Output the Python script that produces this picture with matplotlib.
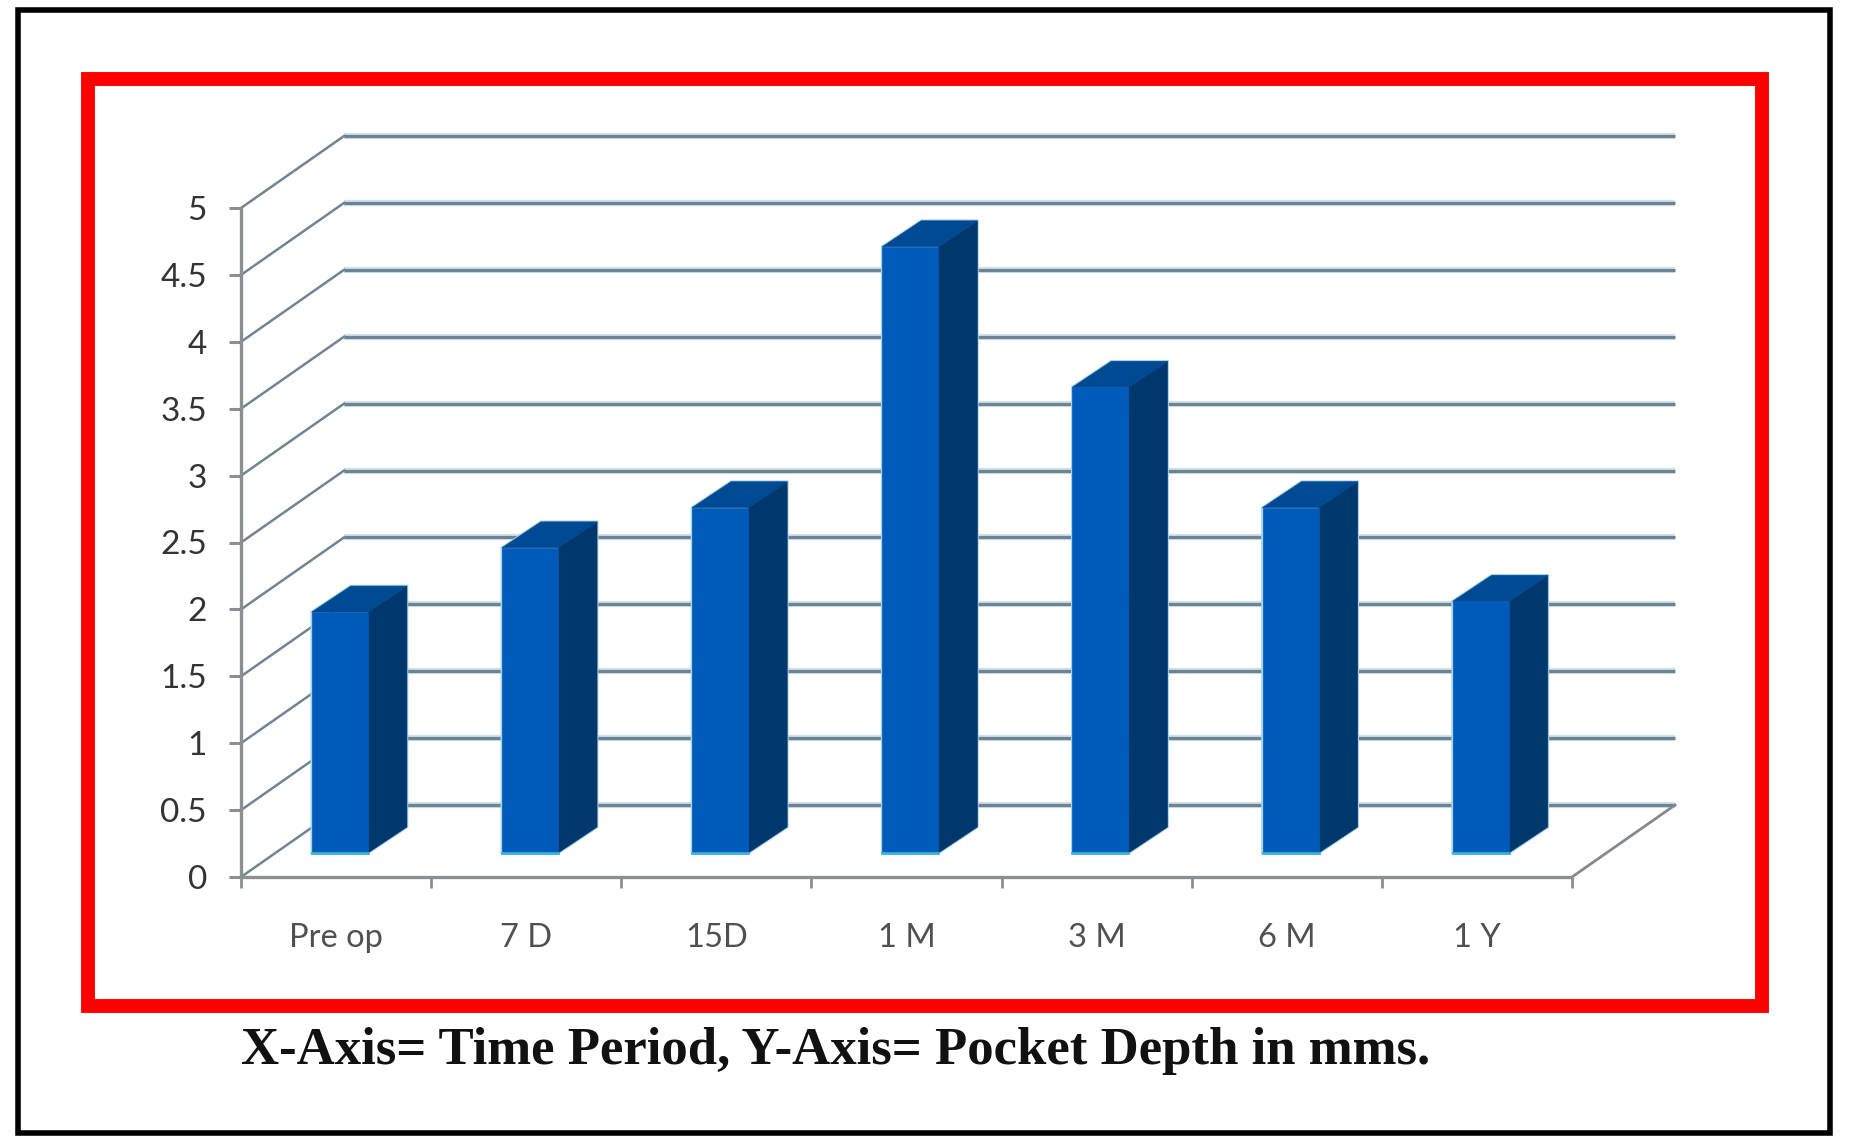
import matplotlib
matplotlib.use("Agg")
import matplotlib.pyplot as plt
from matplotlib.patches import Polygon, Rectangle

periods = ["Pre op", "7 D", "15D", "1 M", "3 M", "6 M", "1 Y"]
pocket_depth = [1.8, 2.28, 2.58, 4.53, 3.48, 2.58, 1.88]
y_ticks = [0, 0.5, 1, 1.5, 2, 2.5, 3, 3.5, 4, 4.5, 5]
y_labels = ["0", "0.5", "1", "1.5", "2", "2.5", "3", "3.5", "4", "4.5", "5"]
caption = "X-Axis= Time Period, Y-Axis= Pocket Depth in mms."

W, H = 1853, 1148

# 3d look, in data units: back wall offset, bar depth, bar start
wall_dx, wall_dy = 0.542, 0.538
bar_dx, bar_dy = 0.205, 0.194
bar_width = 0.295
bar_base = 0.18
bar_shift = 0.52

FRONT = "#005ab9"
SIDE = "#00386e"
TOP = "#004a94"
EDGE = "#a5d3e6"
GRID = "#6b8494"
AXIS = "#8b8f91"

fig = plt.figure(figsize=(W / 100, H / 100), dpi=100, facecolor="white")

# frame around everything, in image pixels
bg = fig.add_axes([0, 0, 1, 1])
bg.set_xlim(0, W)
bg.set_ylim(H, 0)
bg.axis("off")
bg.add_patch(Rectangle((18, 10), 1812, 1123, fill=False, ec="black", lw=4))
bg.add_patch(Rectangle((87.5, 79), 1674, 927, fill=False, ec="#ff0000", lw=10, joinstyle="miter"))
bg.text(836, 1051, caption, family="Liberation Serif", weight="bold", fontsize=38,
        ha="center", va="center", color="#111111")

ax = fig.add_axes([241 / W, 1 - 877 / H, (1572 - 241) / W, (877 - 208) / H])
ax.patch.set_alpha(0)
ax.set_xlim(0, 7)
ax.set_ylim(0, 5)

# back wall lines and the diagonals going to them
for v in y_ticks:
    ax.plot([wall_dx, 7 + wall_dx], [v + wall_dy, v + wall_dy], color="#d3e0e8", lw=4.5,
            clip_on=False, zorder=1, solid_capstyle="butt")
    ax.plot([wall_dx, 7 + wall_dx], [v + wall_dy, v + wall_dy], color=GRID, lw=2.3,
            clip_on=False, zorder=2, solid_capstyle="butt")
    ax.plot([0, wall_dx], [v, v + wall_dy], color="#6f8594", lw=1.8, clip_on=False, zorder=2)
ax.plot([7, 7 + wall_dx], [0, wall_dy], color="#85898c", lw=2, clip_on=False, zorder=2)

# bars: front, side and top faces, with a pale outline behind them
for i, value in enumerate(pocket_depth):
    x0 = i + bar_shift - bar_width / 2
    x1 = x0 + bar_width
    y0 = bar_base
    y1 = bar_base + value
    side = [(x1, y0), (x1 + bar_dx, y0 + bar_dy), (x1 + bar_dx, y1 + bar_dy), (x1, y1)]
    top = [(x0, y1), (x1, y1), (x1 + bar_dx, y1 + bar_dy), (x0 + bar_dx, y1 + bar_dy)]
    front = [(x0, y0), (x1, y0), (x1, y1), (x0, y1)]
    outline = [(x0, y0), (x1, y0), (x1 + bar_dx, y0 + bar_dy), (x1 + bar_dx, y1 + bar_dy),
               (x0 + bar_dx, y1 + bar_dy), (x0, y1)]
    ax.add_patch(Polygon(outline, fc="none", ec=EDGE, lw=2, clip_on=False, zorder=3))
    ax.add_patch(Polygon(side, fc=SIDE, ec=SIDE, lw=0.5, clip_on=False, zorder=4))
    ax.add_patch(Polygon(top, fc=TOP, ec=TOP, lw=0.5, clip_on=False, zorder=4))
    ax.add_patch(Polygon(front, fc=FRONT, ec=FRONT, lw=0.5, clip_on=False, zorder=5))
    ax.plot([x0, x1], [y0, y0], color="#35b4d8", lw=2, clip_on=False, zorder=6)

for name in ["top", "right"]:
    ax.spines[name].set_visible(False)
for name in ["left", "bottom"]:
    ax.spines[name].set_color(AXIS)
    ax.spines[name].set_linewidth(2.4)

ax.set_yticks(y_ticks)
ax.set_yticklabels(y_labels, family="Lato", fontsize=24, color="#333333")
ax.tick_params(axis="y", length=8.5, width=2.2, color=AXIS, pad=16)

ax.set_xticks(range(8))
ax.set_xticklabels([])
ax.tick_params(axis="x", which="major", length=8, width=2, color=AXIS)
ax.set_xticks([i + 0.5 for i in range(7)], minor=True)
ax.set_xticklabels(periods, minor=True, family="Lato", fontsize=23.5, color="#505050")
ax.tick_params(axis="x", which="minor", length=0, pad=33)

fig.savefig("out.png", dpi=100)
